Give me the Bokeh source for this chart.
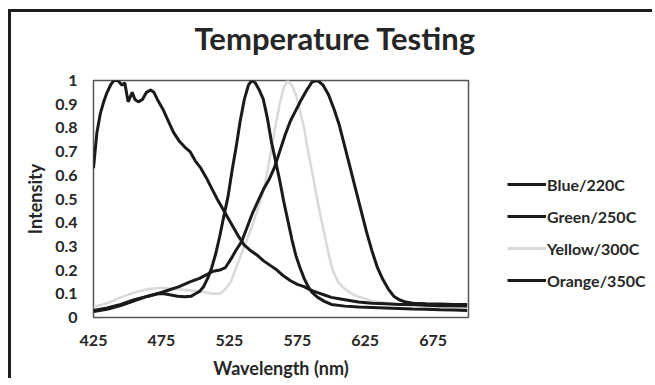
from bokeh.plotting import figure
from bokeh.layouts import row
from bokeh.models import Range1d, FixedTicker, Legend, LegendItem, Title
from bokeh.embed import file_html
from bokeh.resources import INLINE

# ---- data ----
chart_title = "Temperature Testing"
x_ticks = [425, 475, 525, 575, 625, 675]
y_ticks = [0, 0.1, 0.2, 0.3, 0.4, 0.5, 0.6, 0.7, 0.8, 0.9, 1]
y_tick_labels = ["0", "0.1", "0.2", "0.3", "0.4", "0.5", "0.6", "0.7", "0.8", "0.9", "1"]
series_names = ["Blue/220C", "Green/250C", "Yellow/300C", "Orange/350C"]

blue_nm = [425, 427.5, 430, 432.5, 435, 437.5, 440, 443, 446, 448, 450.5, 452, 453.5, 455.5, 458, 461,
           464, 467, 469.5, 472, 476, 480, 484, 488, 492, 496, 500, 504, 508, 512, 516, 520, 524, 528,
           532, 536, 540, 545, 550, 555, 560, 565, 570, 575, 580, 585, 590, 595, 600, 610, 620, 630,
           640, 650, 660, 670, 680, 690, 700]
blue_int = [0.63, 0.78, 0.86, 0.91, 0.95, 0.98, 1.0, 1.0, 0.98, 0.99, 0.91, 0.93, 0.95, 0.92, 0.91, 0.92,
            0.95, 0.96, 0.95, 0.92, 0.88, 0.83, 0.78, 0.745, 0.72, 0.70, 0.66, 0.63, 0.59, 0.545, 0.50,
            0.46, 0.42, 0.38, 0.34, 0.305, 0.285, 0.265, 0.24, 0.22, 0.20, 0.175, 0.155, 0.14, 0.13,
            0.115, 0.105, 0.095, 0.085, 0.075, 0.065, 0.06, 0.058, 0.055, 0.055, 0.052, 0.05, 0.05, 0.048]

green_nm = [425, 435, 445, 455, 465, 472, 477, 482, 487, 492, 497, 500, 503, 506, 509, 512, 515, 518,
            521, 524, 527, 530, 533, 536, 539, 541.5, 544, 547, 550, 553, 556, 559, 562, 565, 568, 571,
            574, 577, 580, 583, 586, 590, 595, 600, 610, 620, 630, 640, 650, 660, 670, 680, 690, 700]
green_int = [0.03, 0.04, 0.055, 0.075, 0.09, 0.10, 0.10, 0.095, 0.09, 0.088, 0.09, 0.10, 0.11, 0.13,
             0.165, 0.21, 0.27, 0.345, 0.43, 0.51, 0.62, 0.72, 0.83, 0.92, 0.98, 1.0, 0.99, 0.96, 0.92,
             0.84, 0.74, 0.66, 0.58, 0.49, 0.41, 0.33, 0.26, 0.21, 0.165, 0.13, 0.105, 0.085, 0.068,
             0.055, 0.048, 0.044, 0.042, 0.04, 0.038, 0.036, 0.035, 0.033, 0.032, 0.03]

yellow_nm = [425, 435, 445, 455, 465, 475, 485, 495, 505, 512, 518, 522, 526, 530, 534, 538, 542, 546,
             550, 554, 558, 562, 565, 568, 571, 574, 577, 580, 583, 586, 589, 592, 595, 598, 601, 605,
             610, 615, 620, 630, 640, 650, 660, 670, 680, 690, 700]
yellow_int = [0.045, 0.06, 0.085, 0.105, 0.12, 0.125, 0.12, 0.115, 0.11, 0.10, 0.10, 0.12, 0.15, 0.21,
              0.27, 0.33, 0.39, 0.46, 0.53, 0.65, 0.78, 0.90, 0.97, 1.0, 0.98, 0.94, 0.87, 0.80, 0.70,
              0.61, 0.52, 0.43, 0.35, 0.27, 0.20, 0.15, 0.12, 0.10, 0.088, 0.07, 0.062, 0.055, 0.05,
              0.047, 0.044, 0.042, 0.04]

orange_nm = [425, 435, 445, 455, 465, 472, 480, 488, 496, 503, 508, 513, 518, 522, 526, 530, 534, 538,
             542, 546, 550, 554, 558, 562, 566, 570, 574, 578, 582, 586, 590, 594, 598, 602, 606, 610,
             614, 618, 622, 626, 630, 634, 638, 642, 646, 650, 655, 660, 670, 680, 690, 700]
orange_int = [0.025, 0.035, 0.05, 0.07, 0.09, 0.10, 0.115, 0.13, 0.15, 0.165, 0.18, 0.195, 0.20, 0.21,
              0.245, 0.285, 0.32, 0.38, 0.44, 0.49, 0.54, 0.58, 0.63, 0.70, 0.77, 0.83, 0.875, 0.92,
              0.96, 0.995, 1.0, 0.98, 0.94, 0.88, 0.81, 0.72, 0.63, 0.54, 0.45, 0.36, 0.28, 0.21, 0.16,
              0.12, 0.09, 0.075, 0.065, 0.06, 0.058, 0.057, 0.055, 0.055]

series_x = [blue_nm, green_nm, yellow_nm, orange_nm]
series_y = [blue_int, green_int, yellow_int, orange_int]

# ---- style ----
FONT = "Lato"
TXT = "#262626"
DARK = "#1a1a1a"
YEL = "#d9d9d9"
BORDER = "3px solid #1e1e1e"
series_colors = [DARK, DARK, YEL, DARK]
series_widths = [3, 3, 2.5, 3]

# ---- main chart ----
p = figure(width=490, height=369, output_backend="svg", toolbar_location=None,
           x_range=Range1d(425, 701), y_range=Range1d(0, 1),
           min_border_left=82, min_border_right=33, min_border_top=68, min_border_bottom=64,
           styles={"margin-left": "8px", "margin-top": "9px",
                   "border-left": BORDER, "border-top": BORDER})
p.background_fill_color = "white"
p.border_fill_color = "white"
p.outline_line_color = "#555555"
p.outline_line_width = 1.5
p.xgrid.visible = False
p.ygrid.visible = False

# a blank spacer title sits next to the frame, the real title stacks above it
spacer = Title(text=" ", text_font=FONT, text_font_size="10px", text_color="white", standoff=9)
p.add_layout(spacer, "above")
main_title = Title(text=chart_title, align="left", offset=101, standoff=2, text_font=FONT,
                   text_font_style="bold", text_font_size="31px", text_color=TXT)
p.add_layout(main_title, "above")

for ax in (p.xaxis[0], p.yaxis[0]):
    ax.axis_line_color = None
    ax.major_tick_line_color = None
    ax.minor_tick_line_color = None
    ax.major_tick_out = 0
    ax.major_tick_in = 0
    ax.minor_tick_out = 0
    ax.minor_tick_in = 0
    ax.major_label_text_font = FONT
    ax.major_label_text_font_style = "bold"
    ax.major_label_text_font_size = "16px"
    ax.major_label_text_color = TXT
    ax.axis_label_text_font = FONT
    ax.axis_label_text_font_style = "bold"
    ax.axis_label_text_font_size = "18px"
    ax.axis_label_text_color = TXT

p.xaxis.ticker = FixedTicker(ticks=x_ticks)
p.yaxis.ticker = FixedTicker(ticks=y_ticks)
p.yaxis.major_label_overrides = {t: s for t, s in zip(y_ticks, y_tick_labels)}
p.xaxis.major_label_standoff = 17
p.yaxis.major_label_standoff = 16
p.xaxis.axis_label = "Wavelength (nm)"
p.yaxis.axis_label = "Intensity"
p.xaxis.axis_label_standoff = 8
p.yaxis.axis_label_standoff = 6

# draw yellow first so the dark lines sit on top
for i in [2, 0, 1, 3]:
    p.line(series_x[i], series_y[i], line_color=series_colors[i], line_width=series_widths[i])

# ---- legend panel (its own small figure so the legend is not clipped) ----
q = figure(width=154, height=369, output_backend="svg", toolbar_location=None,
           x_axis_type=None, y_axis_type=None,
           x_range=Range1d(0, 1), y_range=Range1d(0, 1),
           min_border_left=0, min_border_right=0, min_border_top=0, min_border_bottom=0,
           styles={"margin-top": "9px", "border-top": BORDER})
q.outline_line_color = None
q.xgrid.visible = False
q.ygrid.visible = False
q.background_fill_color = "white"
q.border_fill_color = "white"

items = []
for i, name in enumerate(series_names):
    # same series, drawn outside this panel's view: only its legend swatch shows
    r = q.line(series_x[i], series_y[i], line_color=series_colors[i], line_width=3)
    items.append(LegendItem(label=name, renderers=[r]))

legend = Legend(items=items, location=(9, 27), orientation="vertical")
legend.background_fill_alpha = 0
legend.border_line_color = None
legend.padding = 0
legend.margin = 0
legend.spacing = 12
legend.glyph_width = 39
legend.glyph_height = 20
legend.label_height = 20
legend.label_standoff = 1
legend.label_text_font = FONT
legend.label_text_font_style = "bold"
legend.label_text_font_size = "16px"
legend.label_text_color = TXT
q.add_layout(legend, "center")

layout = row(p, q)
open("out.html", "w").write(file_html(layout, INLINE))
